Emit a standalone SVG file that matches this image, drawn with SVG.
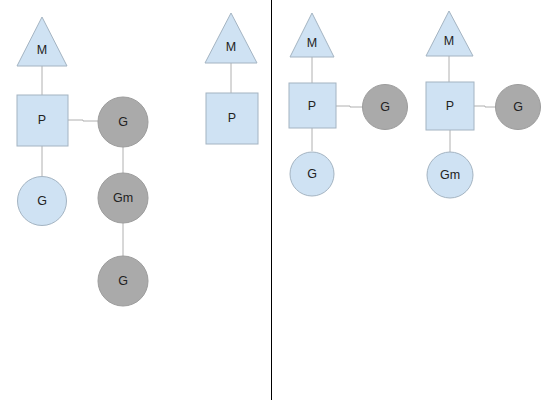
<svg xmlns="http://www.w3.org/2000/svg" width="550" height="400" viewBox="0 0 550 400">
<style>
.lb{fill:#cfe2f3;stroke:#a4b4c2;stroke-width:1}
.gr{fill:#aaaaaa;stroke:#9c9c9c;stroke-width:1}
.ln{stroke:#b0b0b0;stroke-width:1;fill:none}
text{font-family:"Liberation Sans",Arial,sans-serif;font-size:12.5px;fill:#222;text-anchor:middle;dominant-baseline:central}
</style>
<rect width="550" height="400" fill="#fff"/>
<line x1="271.5" y1="0" x2="271.5" y2="400" stroke="#000" stroke-width="1"/>
<g id="connectors">
<path class="ln" d="M42 66V95"/>
<path class="ln" d="M68 120H83V121H98"/>
<path class="ln" d="M123 147V173"/>
<path class="ln" d="M123 223V256"/>
<path class="ln" d="M42 146V176"/>
<path class="ln" d="M231 63V93"/>
<path class="ln" d="M312 57V83"/>
<path class="ln" d="M336 106H350V107H363"/>
<path class="ln" d="M312 128V151"/>
<path class="ln" d="M449 56V83"/>
<path class="ln" d="M474 106H485V107H496"/>
<path class="ln" d="M450 130V152"/>
</g>
<g id="m1"><polygon class="lb" points="42,17 67,66 17,66"/><text x="42" y="50">M</text></g>
<g id="p1"><rect class="lb" x="17" y="95" width="51" height="51"/><text x="42" y="120">P</text></g>
<g id="g1"><circle class="gr" cx="123" cy="122" r="25"/><text x="123" y="122">G</text></g>
<g id="gm1"><circle class="gr" cx="123" cy="198" r="25"/><text x="123" y="198">Gm</text></g>
<g id="g2"><circle class="gr" cx="123" cy="281" r="25"/><text x="123" y="281">G</text></g>
<g id="g3"><circle class="lb" cx="42" cy="201" r="24.5"/><text x="42" y="201">G</text></g>
<g id="m2"><polygon class="lb" points="231,13 257,63 205,63"/><text x="231" y="47">M</text></g>
<g id="p2"><rect class="lb" x="206" y="93" width="52" height="51"/><text x="232" y="118">P</text></g>
<g id="m3"><polygon class="lb" points="312,13 334,57 290,57"/><text x="312" y="43">M</text></g>
<g id="p3"><rect class="lb" x="289" y="83" width="47" height="45"/><text x="312" y="106">P</text></g>
<g id="g4"><circle class="gr" cx="385" cy="107" r="22.5"/><text x="385" y="107">G</text></g>
<g id="g5"><circle class="lb" cx="312" cy="174" r="22"/><text x="312" y="174">G</text></g>
<g id="m4"><polygon class="lb" points="449,11 473,56 426,56"/><text x="449" y="41">M</text></g>
<g id="p4"><rect class="lb" x="426" y="82" width="48" height="48"/><text x="450" y="106">P</text></g>
<g id="g6"><circle class="gr" cx="518" cy="107" r="22.5"/><text x="518" y="107">G</text></g>
<g id="gm2"><circle class="lb" cx="450" cy="175" r="23"/><text x="450" y="175">Gm</text></g>
</svg>
